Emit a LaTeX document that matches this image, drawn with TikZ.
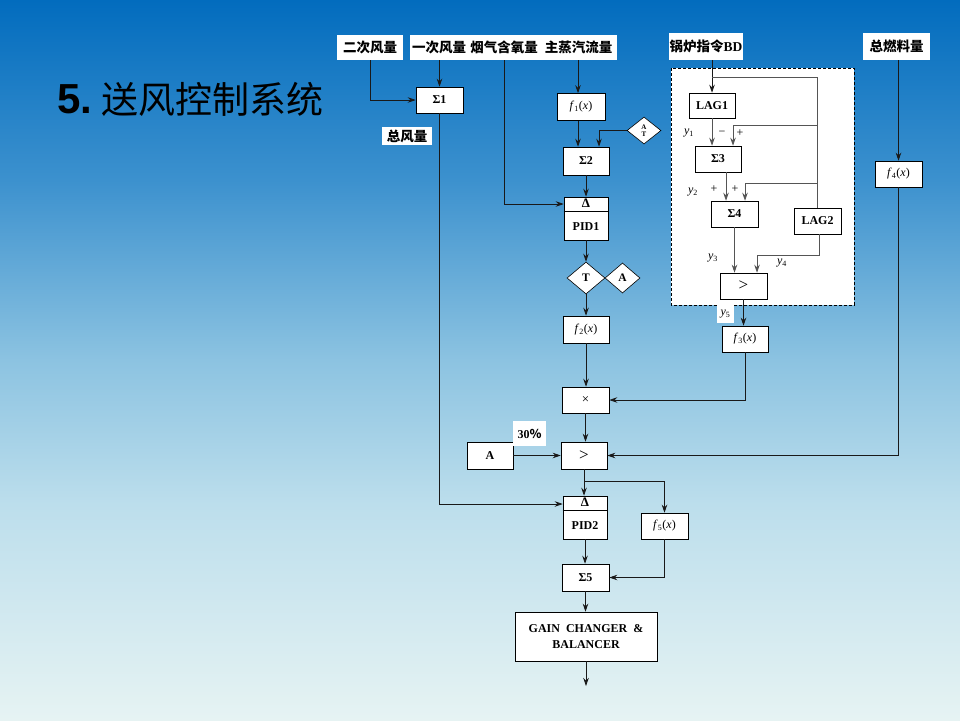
\documentclass[tikz,border=0pt]{standalone}
\usepackage{fontspec}
\setmainfont{Liberation Serif}
\newfontfamily\cjk{Noto Sans CJK SC}
\newfontfamily\titlesans{Liberation Sans}
\usetikzlibrary{arrows.meta,shapes.geometric,calc}
\definecolor{bgtop}{RGB}{2,108,190}
\definecolor{bgq}{RGB}{60,145,206}
\definecolor{bgmid}{RGB}{140,195,225}
\definecolor{bgl}{RGB}{188,222,236}
\definecolor{bgbot}{RGB}{230,243,243}
\definecolor{ln}{RGB}{25,25,25}
\definecolor{lng}{RGB}{85,85,85}
% path box maps to 25bp..75bp of the shading
\pgfdeclareverticalshading{bgsh}{100bp}{color(0bp)=(bgbot); color(25bp)=(bgbot); color(40bp)=(bgl); color(50bp)=(bgmid); color(62.5bp)=(bgq); color(75bp)=(bgtop); color(100bp)=(bgtop)}
\newcommand\fxx[1]{\textit{f}\textsubscript{#1}(\textit{x})}
\newcommand\vyy[1]{\textit{y}\textsubscript{#1}}
\begin{document}
\begin{tikzpicture}[x=1pt,y=-1pt,
  blk/.style={draw=black, line width=0.6pt, fill=white, inner sep=0pt,
    minimum width=46pt, minimum height=26pt, font=\fontsize{12}{13}\selectfont\bfseries},
  fblk/.style={blk, font=\fontsize{12}{13}\selectfont},
  lab/.style={fill=white, inner sep=0pt, minimum height=25pt,
    font=\cjk\bfseries\fontsize{13.5}{14}\selectfont},
  dia/.style={draw=black, line width=0.6pt, fill=white, diamond, inner sep=0pt,
    font=\fontsize{11.5}{12}\selectfont\bfseries},
  sm/.style={inner sep=0pt, font=\fontsize{12}{13}\selectfont},
  arr/.style={-{Stealth[length=8pt,width=5.5pt]}, line width=0.8pt, draw=ln},
  arrg/.style={-{Stealth[length=8pt,width=5.5pt]}, line width=0.8pt, draw=lng},
  lng/.style={line width=0.8pt, draw=lng}]
\useasboundingbox (0,0) rectangle (960,720);
\shade[shading=bgsh] (0,0) rectangle (960,720);
% title
\node[anchor=west, inner sep=0pt] (title) at (57,99)
  {{\titlesans\bfseries\fontsize{42}{44}\selectfont 5.}\hspace{9pt}{\cjk\fontsize{37}{40}\selectfont 送风控制系统}};
% input labels
\node[lab, minimum width=66pt] (L2) at (370,47.5) {二次风量};
\node[lab, minimum width=58pt] (L1) at (439,47.5) {一次风量};
\node[lab, minimum width=72pt] (L3) at (504,47.5) {烟气含氧量};
\node[lab, minimum width=77pt] (L4) at (578.5,47.5) {主蒸汽流量};
\node[lab, minimum width=74pt, minimum height=27pt] (BD) at (706,46.5) {锅炉指令\textrm{BD}};
\node[lab, minimum width=67pt, minimum height=27pt] (FU) at (896.5,46.5) {总燃料量};
\node[lab, minimum width=50pt, minimum height=18pt] (TA) at (407,136) {总风量};
% dashed frame
\draw[dashed, dash pattern=on 3pt off 2pt, fill=white, line width=0.8pt] (671,68) rectangle (854,305);
% center column
\node[blk, minimum width=47pt] (S1) at (439.5,100) {Σ1};
\node[fblk, minimum width=48pt, minimum height=27pt] (F1) at (581,107) {\fxx{1}};
\node[blk, minimum height=28pt] (S2) at (586,161) {Σ2};
\node[dia, minimum width=34pt, minimum height=27pt, align=center,
  font=\fontsize{7}{7.5}\selectfont\bfseries] (AT) at (644,130.5) {A\\T};
\node[blk, minimum width=44pt, minimum height=43pt] (PID1) at (586,218.5) {};
\draw[line width=0.6pt] ([yshift=-15pt]PID1.north west) -- ([yshift=-15pt]PID1.north east);
\node[sm, font=\fontsize{13}{13}\selectfont\bfseries] (P1d) at ([yshift=-7pt]PID1.north) {Δ};
\node[sm, font=\fontsize{12}{13}\selectfont\bfseries] (P1t) at ([yshift=14pt]PID1.south) {PID1};
\node[dia, minimum width=38pt, minimum height=32pt] (T) at (586,278) {T};
\node[dia, minimum width=35pt, minimum height=30pt] (A) at (622.5,278) {A};
\node[fblk, minimum height=27pt] (F2) at (586,329.5) {\fxx{2}};
\node[blk, minimum width=47pt, font=\fontsize{13}{13}\selectfont] (MUL) at (585.5,400) {×};
\node[blk, minimum height=27pt, font=\fontsize{17}{17}\selectfont] (GT1) at (584,455.5) {>};
\node[blk, minimum height=27pt] (AB) at (490,455.5) {A};
\node[fill=white, inner sep=0pt, minimum width=33pt, minimum height=25pt,
  font=\fontsize{12}{12}\selectfont\bfseries] (PC) at (529.5,433.5) {30{\cjk\bfseries ％}};
\node[blk, minimum width=44pt, minimum height=43pt] (PID2) at (585,517.5) {};
\draw[line width=0.6pt] ([yshift=-15pt]PID2.north west) -- ([yshift=-15pt]PID2.north east);
\node[sm, font=\fontsize{13}{13}\selectfont\bfseries] (P2d) at ([yshift=-7pt]PID2.north) {Δ};
\node[sm, font=\fontsize{12}{13}\selectfont\bfseries] (P2t) at ([yshift=14pt]PID2.south) {PID2};
\node[fblk, minimum width=47pt] (F5) at (664.5,526) {\fxx{5}};
\node[blk, minimum width=47pt, minimum height=27pt] (S5) at (585.5,577.5) {Σ5};
\node[blk, minimum width=142pt, minimum height=49pt, align=center,
  font=\fontsize{12}{16}\selectfont\bfseries] (GAIN) at (586,636.5) {GAIN~ CHANGER~ \&\\BALANCER};
\coordinate (out) at (586,686);
% right part
\node[blk, minimum height=25pt] (LAG1) at (712,105.5) {LAG1};
\node[blk] (S3) at (718,159) {Σ3};
\node[blk, minimum width=47pt] (S4) at (734.5,214) {Σ4};
\node[blk, minimum width=47pt] (LAG2) at (817.5,221) {LAG2};
\node[blk, minimum width=47pt, font=\fontsize{17}{17}\selectfont] (GT2) at (743.5,286) {>};
\node[fill=white, inner sep=0pt, minimum width=17pt, minimum height=18pt,
  font=\fontsize{12}{13}\selectfont] (Y5) at (725.5,314) {\vyy{5}};
\node[fblk] (F3) at (745,339) {\fxx{3}};
\node[fblk, minimum width=47pt] (F4) at (898.5,174) {\fxx{4}};
% signal labels
\node[sm] (Y1) at (689,133) {\vyy{1}};
\node[sm] (M1) at (722,133) {−};
\node[sm] (P1) at (740,133) {+};
\node[sm] (Y2) at (693,192) {\vyy{2}};
\node[sm] (P2) at (714,189) {+};
\node[sm] (P3) at (735,189) {+};
\node[sm] (Y3) at (713,258) {\vyy{3}};
\node[sm] (Y4) at (782,263) {\vyy{4}};
% connectors, center
\draw[arr] (L2.south) |- (S1.west);
\draw[arr] (S1.north |- L1.south) -- (S1.north);
\draw[arr] (S1.south) |- ([yshift=13.5pt]PID2.west);
\draw[arr] (L3.south) |- ([yshift=14.5pt]PID1.west);
\draw[arr] ([xshift=-3pt]F1.north |- L4.south) -- ([xshift=-3pt]F1.north);
\draw[arr] ([xshift=-3pt]F1.south) -- ([xshift=-3pt]F1.south |- S2.north);
\draw[arr] (AT.west) -| ([xshift=13pt]S2.north);
\draw[arr] (S2.south) -- (PID1.north);
\draw[arr] (PID1.south) -- (T.north);
\draw[arr] (T.south) -- (F2.north);
\draw[arr] (F2.south) -- (F2.south |- MUL.north);
\draw[arr] (MUL.south) -- (MUL.south |- GT1.north);
\draw[arr] (AB.east) -- (GT1.west);
\draw[arr] (GT1.south) -- (GT1.south |- PID2.north);
\coordinate (br) at (584,481);
\draw[arr] (br) -| (F5.north);
\draw[arr] (PID2.south) -- (PID2.south |- S5.north);
\draw[arr] (F5.south) |- (S5.east);
\draw[arr] (S5.south) -- (S5.south |- GAIN.north);
\draw[arr] (GAIN.south) -- (out);
% connectors, right
\coordinate (tap) at (712,77);
\coordinate (t2) at (817.5,125);
\coordinate (t3) at (817.5,183);
\draw[arr] (LAG1.north |- BD.south) -- (LAG1.north);
\draw[lng] (tap) -| (LAG2.north);
\draw[arrg] (t2) -| ([xshift=15pt]S3.north);
\draw[arrg] (LAG1.south) -- (LAG1.south |- S3.north);
\draw[arrg] ([xshift=8pt]S3.south) -- ([xshift=8pt]S3.south |- S4.north);
\draw[arrg] (t3) -| ([xshift=10.5pt]S4.north);
\draw[arrg] (S4.south) -- (S4.south |- GT2.north);
\draw[arrg] ([xshift=1.5pt]LAG2.south) -- ++(0,21) -| ([xshift=13.5pt]GT2.north);
\draw[arr] (GT2.south) -- (GT2.south |- F3.north);
\draw[arr] (F3.south) |- (MUL.east);
\draw[arr] (F4.north |- FU.south) -- (F4.north);
\draw[arr] (F4.south) |- (GT1.east);
\end{tikzpicture}
\end{document}
